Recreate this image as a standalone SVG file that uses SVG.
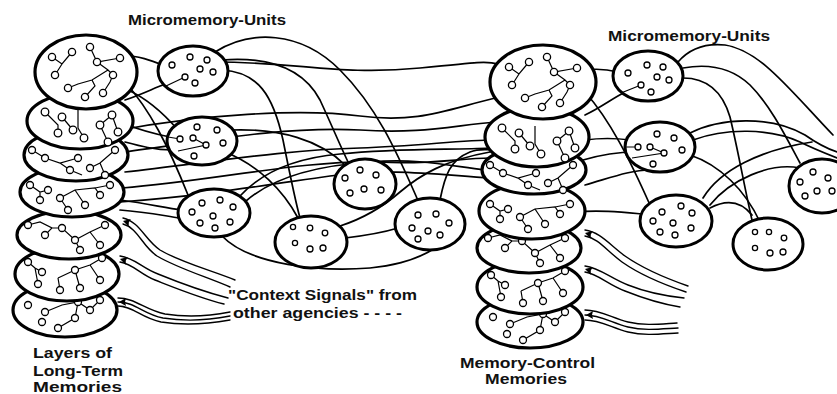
<svg xmlns="http://www.w3.org/2000/svg" width="837" height="394" viewBox="0 0 837 394">
<style>
.lay{fill:#fff;stroke:#000;stroke-width:3.2}
.mu{fill:#fff;stroke:#000;stroke-width:3}
.c{fill:none;stroke:#000;stroke-width:1.7;stroke-linecap:round}
.n{fill:#fff;stroke:#000;stroke-width:1.3}
.s{fill:none;stroke:#000;stroke-width:1.2}
.sig{fill:none;stroke:#000;stroke-width:1.4;stroke-linecap:round}
.t{font-family:"Liberation Sans",Arial,sans-serif;font-weight:bold;fill:#111}
</style>
<defs>
<g id="net1"><path class="s" d="M-34,-15 L-24,-8 L-14,-20 M-24,-8 L-31,3 M4,-25 L11,-10 L34,-14 M11,-10 L22,-2 L27,3 M22,-2 L6,8 L-8,12 L-18,16 M-1,25 L9,14 L6,8 M17,21 L24,10 L27,3"/><g class="n"><circle cx="-34" cy="-15" r="3.6"/><circle cx="-31" cy="3" r="3.6"/><circle cx="-14" cy="-20" r="3.6"/><circle cx="4" cy="-25" r="3.6"/><circle cx="11" cy="-10" r="3.6"/><circle cx="34" cy="-14" r="3.6"/><circle cx="27" cy="3" r="3.6"/><circle cx="-18" cy="16" r="3.6"/><circle cx="-1" cy="25" r="3.6"/><circle cx="17" cy="21" r="3.6"/></g></g>
<g id="net2"><path class="s" d="M-35,-9 L-22,4 L-22,12 M-18,-4 L-7,9 M-2,-11 L-2,7 L4,17 M20,4 L32,-6 M20,4 L28,21 M32,-6 L38,11"/><g class="n"><circle cx="-35" cy="-9" r="3.8"/><circle cx="-18" cy="-4" r="3.8"/><circle cx="-22" cy="12" r="3.8"/><circle cx="-7" cy="9" r="3.8"/><circle cx="4" cy="17" r="3.8"/><circle cx="20" cy="4" r="3.8"/><circle cx="32" cy="-6" r="3.8"/><circle cx="38" cy="11" r="3.8"/><circle cx="28" cy="21" r="3.8"/></g></g>
<g id="net3"><path class="s" d="M-44,-5 L-31,3 L-16,8 L2,3 M-16,8 L-6,15 L6,20 M14,13 L24,8 L39,-5 M24,8 L29,20"/><g class="n"><circle cx="-44" cy="-5" r="3.5"/><circle cx="-31" cy="3" r="3.5"/><circle cx="2" cy="3" r="3.5"/><circle cx="-6" cy="15" r="3.5"/><circle cx="14" cy="13" r="3.5"/><circle cx="39" cy="-5" r="3.5"/><circle cx="29" cy="20" r="3.5"/></g></g>
<g id="net4"><path class="s" d="M-42,-7 L-32,0 L-24,-2 M-32,0 L-32,8 M-12,6 L3,-2 L13,13 M3,-2 L23,-4 L28,3 M23,-4 L38,-7 M-12,6 L-4,18"/><g class="n"><circle cx="-42" cy="-7" r="3.5"/><circle cx="-24" cy="-2" r="3.5"/><circle cx="-32" cy="8" r="3.5"/><circle cx="-12" cy="6" r="3.5"/><circle cx="13" cy="13" r="3.5"/><circle cx="28" cy="3" r="3.5"/><circle cx="38" cy="-7" r="3.5"/><circle cx="-4" cy="18" r="3.5"/></g></g>
<g id="net5"><path class="s" d="M-41,-10 L-29,-13 L-17,-7 L-24,0 M-17,-7 L-7,-7 L6,5 L21,-3 L36,-10 M6,5 L11,15 M21,-3 L31,10"/><g class="n"><circle cx="-41" cy="-10" r="3.5"/><circle cx="-24" cy="0" r="3.5"/><circle cx="-7" cy="-7" r="3.5"/><circle cx="6" cy="5" r="3.5"/><circle cx="36" cy="-10" r="3.5"/><circle cx="31" cy="10" r="3.5"/><circle cx="11" cy="15" r="3.5"/></g></g>
<g id="net6"><path class="s" d="M-39,-12 L-32,-6 L-25,-2 M-32,-6 L-29,10 M-9,4 L8,-4 L23,-9 L35,-16 M8,-4 L13,14 M23,-9 L33,6 M-9,4 L-7,16"/><g class="n"><circle cx="-39" cy="-12" r="3.5"/><circle cx="-25" cy="-2" r="3.5"/><circle cx="-29" cy="10" r="3.5"/><circle cx="8" cy="-4" r="3.5"/><circle cx="35" cy="-16" r="3.5"/><circle cx="33" cy="6" r="3.5"/><circle cx="13" cy="14" r="3.5"/><circle cx="-7" cy="16" r="3.5"/></g></g>
<g id="net7"><path class="s" d="M-20,2 L-3,-5 L13,-8 L25,0 L35,-10 M13,-8 L10,8 L-7,18"/><g class="n"><circle cx="-37" cy="-5" r="3.5"/><circle cx="-20" cy="2" r="3.5"/><circle cx="13" cy="-8" r="3.5"/><circle cx="25" cy="0" r="3.5"/><circle cx="35" cy="-10" r="3.5"/><circle cx="10" cy="8" r="3.5"/><circle cx="-7" cy="18" r="3.5"/><circle cx="-23" cy="12" r="3.5"/></g></g>
<path id="arw" d="M0,0 L-7,-4 L-6,0 L-7,4 Z" fill="#000"/>
</defs>
<rect width="837" height="394" fill="#fff"/>

<g id="connectors">
<path class="c" d="M215,62 C300,62 340,76 420,68 S480,62 500,64"/>
<path class="c" d="M215,52 C250,30 300,30 340,70 C380,110 400,160 420,205"/>
<path class="c" d="M222,60 C275,56 305,72 320,100 C333,128 342,150 350,166"/>
<path class="c" d="M222,70 C258,72 273,95 283,140 C290,175 295,200 300,218"/>
<path class="c" d="M120,55 C140,56 150,60 165,66"/>
<path class="c" d="M125,100 C140,95 150,90 165,84"/>
<path class="c" d="M125,82 C150,110 168,145 188,195"/>
<path class="c" d="M128,90 C150,100 165,115 178,130"/>
<path class="c" d="M120,130 C200,115 300,108 360,116 C420,124 450,108 500,97"/>
<path class="c" d="M125,152 C200,142 280,126 360,130 C420,134 450,126 495,122"/>
<path class="c" d="M125,172 C200,164 280,150 360,148 C420,146 460,140 495,140"/>
<path class="c" d="M122,188 C220,180 300,160 380,162 C430,165 460,158 490,158"/>
<path class="c" d="M120,202 C200,196 260,186 330,176 C390,168 430,174 490,178"/>
<path class="c" d="M230,130 C280,128 320,140 345,165"/>
<path class="c" d="M225,152 C258,165 283,190 298,218"/>
<path class="c" d="M125,124 C140,130 155,134 170,137"/>
<path class="c" d="M125,142 C140,146 155,150 172,150"/>
<path class="c" d="M240,196 C262,172 295,158 340,154 C400,148 450,150 490,148"/>
<path class="c" d="M246,201 C270,180 310,166 370,162 C420,158 450,166 485,170"/>
<path class="c" d="M222,236 C250,265 320,272 370,268 C400,265 420,258 435,248"/>
<path class="c" d="M120,200 C150,204 165,208 182,210"/>
<path class="c" d="M120,210 C148,212 165,216 180,218"/>
<path class="c" d="M345,238 C370,235 385,232 398,228"/>
<path class="c" d="M440,200 C445,175 450,160 470,152 C480,148 488,150 495,150"/>
<path class="c" d="M340,226 C365,218 385,205 400,192 C420,175 445,160 490,152"/>
<path class="c" d="M585,70 C600,68 610,70 618,72"/>
<path class="c" d="M678,62 C690,48 705,43 725,45 C760,50 790,90 833,135"/>
<path class="c" d="M683,68 C705,64 730,66 750,85 C770,105 785,135 800,163"/>
<path class="c" d="M683,78 C705,78 722,90 730,117 C738,150 745,190 752,220"/>
<path class="c" d="M625,92 C610,100 600,108 585,115"/>
<path class="c" d="M585,92 C610,120 630,160 650,205"/>
<path class="c" d="M585,140 C600,138 615,138 630,140"/>
<path class="c" d="M583,160 C600,155 620,152 635,152"/>
<path class="c" d="M585,185 C610,178 630,170 650,170"/>
<path class="c" d="M690,133 C720,118 770,115 805,135 C815,142 825,148 837,152"/>
<path class="c" d="M693,140 C725,128 770,128 800,142 C812,148 822,152 837,158"/>
<path class="c" d="M690,155 C720,165 745,190 760,222"/>
<path class="c" d="M710,208 C725,200 740,200 752,215"/>
<path class="c" d="M575,212 C600,210 620,212 642,214"/>
<path class="c" d="M703,198 C720,170 760,150 812,142"/>
<path class="c" d="M710,205 C730,180 770,162 800,168"/>
</g>

<g id="context-signals">
<path class="sig" d="M123,218 C140,222 145,240 160,250 C180,262 210,270 235,280"/>
<path class="sig" d="M123,224 C138,228 142,246 157,256 C177,268 207,277 230,287"/>
<path class="sig" d="M120,256 C135,258 142,268 158,274 C180,283 205,292 228,298"/>
<path class="sig" d="M120,262 C133,264 140,274 155,280 C178,289 200,298 224,304"/>
<path class="sig" d="M118,298 C135,298 145,310 165,314 C190,318 210,316 230,312"/>
<path class="sig" d="M118,302 C135,302 143,314 163,318 C188,322 210,320 230,316"/>
<path class="sig" d="M118,306 C133,306 141,318 161,322 C186,326 208,324 230,320"/>
<path class="sig" d="M585,230 C600,232 610,245 625,256 C645,270 665,278 688,286"/>
<path class="sig" d="M585,236 C598,238 607,251 622,262 C642,276 662,284 686,292"/>
<path class="sig" d="M585,266 C600,268 610,278 628,285 C648,293 665,296 684,298"/>
<path class="sig" d="M585,272 C598,274 607,284 625,291 C645,299 662,304 680,307"/>
<path class="sig" d="M585,310 C600,310 612,318 628,322 C645,326 660,324 677,323"/>
<path class="sig" d="M585,315 C600,315 612,323 628,327 C645,331 660,329 678,328"/>
<path class="sig" d="M585,320 C600,320 612,328 628,332 C645,336 660,334 678,333"/>
<use href="#arw" transform="translate(123,221) rotate(195)"/>
<use href="#arw" transform="translate(120,259) rotate(195)"/>
<use href="#arw" transform="translate(119,302) rotate(180)"/>
<use href="#arw" transform="translate(585,233) rotate(195)"/>
<use href="#arw" transform="translate(585,269) rotate(195)"/>
<use href="#arw" transform="translate(586,315) rotate(180)"/>
</g>

<g id="micro-A"><ellipse class="mu" cx="193" cy="71" rx="35" ry="25"/><path class="s" d="M185,77 L166,86"/><g class="n"><circle cx="172" cy="65" r="3"/><circle cx="190" cy="57" r="3"/><circle cx="207" cy="60" r="3"/><circle cx="200" cy="69" r="3"/><circle cx="213" cy="72" r="3"/><circle cx="185" cy="77" r="3"/><circle cx="195" cy="83" r="3"/></g></g>
<g id="micro-B"><ellipse class="mu" cx="202" cy="141" rx="35" ry="24"/><path class="s" d="M180,139 L168,137 M193,138 L206,145 L178,151"/><g class="n"><circle cx="197" cy="127" r="3"/><circle cx="217" cy="130" r="3"/><circle cx="180" cy="139" r="3"/><circle cx="193" cy="138" r="3"/><circle cx="206" cy="145" r="3"/><circle cx="223" cy="143" r="3"/><circle cx="194" cy="156" r="3"/></g></g>
<g id="micro-C"><ellipse class="mu" cx="214" cy="213" rx="36" ry="24"/><g class="n"><circle cx="202" cy="203" r="3"/><circle cx="220" cy="200" r="3"/><circle cx="233" cy="207" r="3"/><circle cx="192" cy="212" r="3"/><circle cx="213" cy="216" r="3"/><circle cx="200" cy="223" r="3"/><circle cx="215" cy="228" r="3"/><circle cx="230" cy="222" r="3"/></g></g>
<g id="micro-D"><ellipse class="mu" cx="365" cy="184" rx="31" ry="25"/><g class="n"><circle cx="345" cy="178" r="3"/><circle cx="360" cy="170" r="3"/><circle cx="376" cy="175" r="3"/><circle cx="350" cy="193" r="3"/><circle cx="364" cy="189" r="3"/><circle cx="381" cy="190" r="3"/></g></g>
<g id="micro-E"><ellipse class="mu" cx="311" cy="242" rx="36" ry="26"/><g class="n"><circle cx="293" cy="227" r="2.6"/><circle cx="310" cy="228" r="2.8"/><circle cx="325" cy="233" r="2.8"/><circle cx="295" cy="243" r="2.6"/><circle cx="310" cy="249" r="3"/><circle cx="323" cy="248" r="3"/></g></g>
<g id="micro-F"><ellipse class="mu" cx="430" cy="224" rx="35" ry="26"/><g class="n"><circle cx="418" cy="215" r="3"/><circle cx="436" cy="214" r="3"/><circle cx="449" cy="223" r="3"/><circle cx="412" cy="228" r="3"/><circle cx="428" cy="231" r="3"/><circle cx="440" cy="235" r="3"/><circle cx="418" cy="239" r="3"/></g></g>
<g id="micro-G"><ellipse class="mu" cx="648" cy="76" rx="35" ry="25"/><path class="s" d="M641,85 L621,93"/><g class="n"><circle cx="628" cy="73" r="3"/><circle cx="647" cy="65" r="3"/><circle cx="663" cy="67" r="3"/><circle cx="657" cy="77" r="3"/><circle cx="669" cy="80" r="3"/><circle cx="641" cy="85" r="3"/><circle cx="651" cy="92" r="3"/></g></g>
<g id="micro-H"><ellipse class="mu" cx="660" cy="147" rx="35" ry="25"/><path class="s" d="M638,147 L626,147 M650,147 L664,153 L632,158"/><g class="n"><circle cx="657" cy="134" r="3"/><circle cx="674" cy="138" r="3"/><circle cx="638" cy="147" r="3"/><circle cx="650" cy="147" r="3"/><circle cx="664" cy="153" r="3"/><circle cx="682" cy="150" r="3"/><circle cx="653" cy="164" r="3"/></g></g>
<g id="micro-I"><ellipse class="mu" cx="822" cy="186" rx="33" ry="27"/><g class="n"><circle cx="800" cy="182" r="3"/><circle cx="813" cy="172" r="3"/><circle cx="828" cy="178" r="3"/><circle cx="817" cy="191" r="3"/><circle cx="832" cy="191" r="3"/><circle cx="805" cy="196" r="3"/></g></g>
<g id="micro-J"><ellipse class="mu" cx="676" cy="221" rx="36" ry="26"/><g class="n"><circle cx="662" cy="212" r="3"/><circle cx="681" cy="206" r="3"/><circle cx="692" cy="213" r="3"/><circle cx="653" cy="221" r="3"/><circle cx="673" cy="223" r="3"/><circle cx="691" cy="228" r="3"/><circle cx="660" cy="232" r="3"/><circle cx="675" cy="235" r="3"/></g></g>
<g id="micro-K"><ellipse class="mu" cx="768" cy="244" rx="35" ry="26"/><g class="n"><circle cx="755" cy="232" r="2.6"/><circle cx="769" cy="232" r="2.6"/><circle cx="784" cy="238" r="2.8"/><circle cx="755" cy="248" r="2.6"/><circle cx="770" cy="253" r="3"/><circle cx="783" cy="252" r="3"/></g></g>

<g id="long-term-stack">
<ellipse class="lay" cx="65" cy="310" rx="52" ry="27"/><use href="#net7" x="65" y="310"/>
<ellipse class="lay" cx="67" cy="274" rx="52" ry="27"/><use href="#net6" x="67" y="274"/>
<ellipse class="lay" cx="69" cy="235" rx="52" ry="24"/><use href="#net5" x="69" y="235"/>
<ellipse class="lay" cx="72" cy="192" rx="52" ry="25"/><use href="#net4" x="72" y="192"/>
<ellipse class="lay" cx="76" cy="155" rx="52" ry="26"/><use href="#net3" x="76" y="155"/>
<ellipse class="lay" cx="80" cy="121" rx="53" ry="28"/><use href="#net2" x="80" y="121"/>
<ellipse class="lay" cx="86" cy="72" rx="51" ry="37"/><use href="#net1" x="86" y="72"/>
</g>

<g id="memory-control-stack">
<ellipse class="lay" cx="530" cy="322" rx="53" ry="26"/><use href="#net7" x="530" y="322"/>
<ellipse class="lay" cx="530" cy="287" rx="53" ry="27"/><use href="#net6" x="530" y="287"/>
<ellipse class="lay" cx="529" cy="248" rx="52" ry="25"/><use href="#net5" x="529" y="248"/>
<ellipse class="lay" cx="532" cy="211" rx="53" ry="28"/><use href="#net4" x="532" y="211"/>
<ellipse class="lay" cx="534" cy="170" rx="52" ry="24"/><use href="#net3" x="534" y="170"/>
<ellipse class="lay" cx="537" cy="137" rx="52" ry="30"/><use href="#net2" x="537" y="137"/>
<ellipse class="lay" cx="543" cy="82" rx="53" ry="37"/><use href="#net1" x="543" y="82"/>
</g>

<g id="labels">
<text class="t" x="128" y="25" font-size="15" textLength="158" lengthAdjust="spacingAndGlyphs">Micromemory-Units</text>
<text class="t" x="608" y="41" font-size="15" textLength="162" lengthAdjust="spacingAndGlyphs">Micromemory-Units</text>
<text class="t" x="228" y="300" font-size="15" textLength="189" lengthAdjust="spacingAndGlyphs">"Context Signals" from</text>
<text class="t" x="233" y="318" font-size="15" textLength="169" lengthAdjust="spacingAndGlyphs">other agencies - - - -</text>
<text class="t" x="33" y="358" font-size="15" textLength="79" lengthAdjust="spacingAndGlyphs">Layers of</text>
<text class="t" x="33" y="376" font-size="15" textLength="90" lengthAdjust="spacingAndGlyphs">Long-Term</text>
<text class="t" x="33" y="392" font-size="15" textLength="89" lengthAdjust="spacingAndGlyphs">Memories</text>
<text class="t" x="460" y="368" font-size="15" textLength="135" lengthAdjust="spacingAndGlyphs">Memory-Control</text>
<text class="t" x="485" y="384" font-size="15" textLength="82" lengthAdjust="spacingAndGlyphs">Memories</text>
</g>
</svg>
